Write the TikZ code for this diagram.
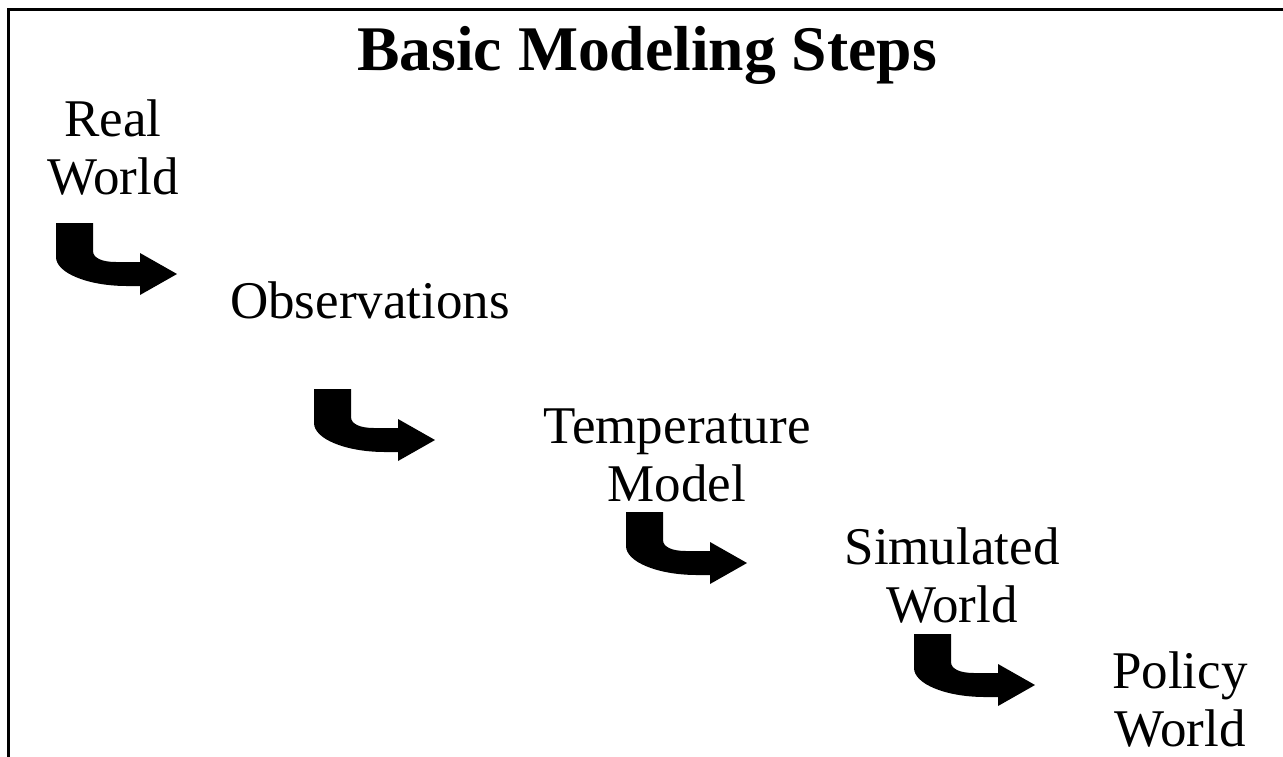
\documentclass[tikz,border=0pt]{standalone}
\usepackage{fontspec}
\setmainfont{Liberation Serif}
\begin{document}
\begin{tikzpicture}[x=0.5pt,y=-0.5pt,
  lbl/.style={font=\fontsize{26.5}{29}\selectfont, align=center, inner sep=0pt},
  ttl/.style={font=\bfseries\fontsize{31.8}{36}\selectfont, inner sep=0pt},
  frame/.style={line width=1.5pt, line cap=rect},
  bentarrow/.pic={
    \fill[black] (0,0) -- (37,0) -- (37,28) .. controls (37,35) and (46,39) .. (60,39)
      -- (84,39) -- (84,30) -- (121,51) -- (84,72) -- (84,63) -- (71,63)
      .. controls (32,63) and (0,50) .. (0,34) -- cycle;
  }]
\useasboundingbox (0,0) rectangle (1283,756);
\draw[frame] (8,760) -- (8,9) -- (1290,9);
\node[ttl, anchor=base] (title) at (647,70) {Basic Modeling Steps};
\node[lbl] (real) at (113,148) {Real\\World};
\node[lbl, anchor=base] (obs) at (370,318) {Observations};
\node[lbl] (temp) at (677,455) {Temperature\\Model};
\node[lbl] (sim) at (952,575) {Simulated\\World};
\node[lbl] (pol) at (1180,699) {Policy\\World};
\pic at (56,223) {bentarrow};
\pic at (314,389) {bentarrow};
\pic at (626,512) {bentarrow};
\pic at (914,634) {bentarrow};
\end{tikzpicture}
\end{document}
